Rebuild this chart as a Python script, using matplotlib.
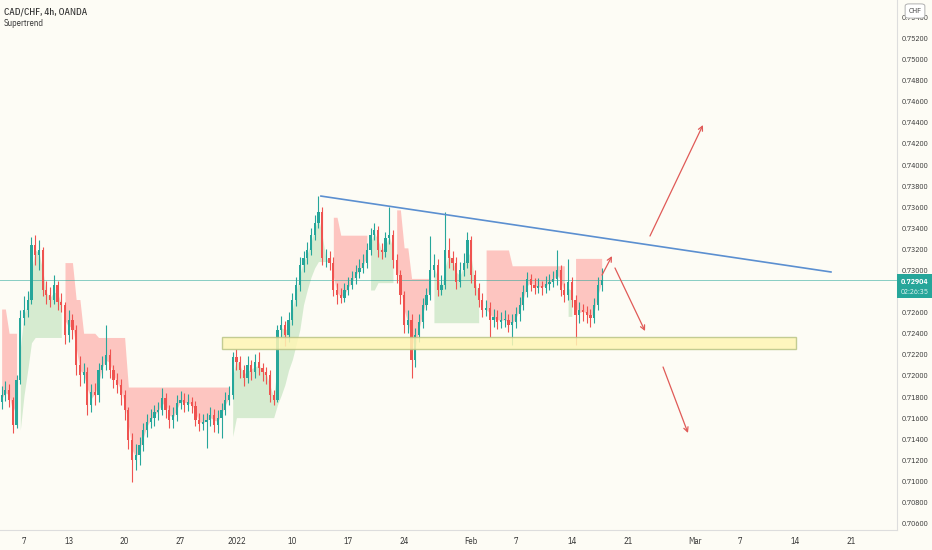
import numpy as np
import matplotlib
matplotlib.use("Agg")
import matplotlib.pyplot as plt
import matplotlib.transforms as mtransforms
from matplotlib.patches import Rectangle, FancyBboxPatch

plt.rcParams['font.family'] = ['IBM Plex Sans Condensed', 'DejaVu Sans']

# ---- price data (8h steps), CAD/CHF ----
first_open = 0.7175
closes = [0.7181, 0.7186, 0.7177, 0.7153, 0.7196, 0.7254, 0.7262, 0.7272, 0.7324, 0.7314,
          0.7319, 0.7281, 0.7276, 0.7272, 0.7286, 0.7270, 0.7267, 0.7238, 0.7253, 0.7243,
          0.7210, 0.7200, 0.7203, 0.7172, 0.7184, 0.7181, 0.7205, 0.7210, 0.7219, 0.7205,
          0.7196, 0.7191, 0.7181, 0.7167, 0.7139, 0.7120, 0.7125, 0.7134, 0.7148, 0.7156,
          0.7160, 0.7165, 0.7167, 0.7179, 0.7167, 0.7158, 0.7162, 0.7174, 0.7177, 0.7172,
          0.7175, 0.7171, 0.7158, 0.7154, 0.7156, 0.7158, 0.7162, 0.7153, 0.7160, 0.7167,
          0.7177, 0.7181, 0.7217, 0.7213, 0.7205, 0.7198, 0.7210, 0.7203, 0.7213, 0.7207,
          0.7203, 0.7200, 0.7181, 0.7177, 0.7243, 0.7248, 0.7238, 0.7253, 0.7272, 0.7286,
          0.7305, 0.7311, 0.7319, 0.7333, 0.7345, 0.7355, 0.7311, 0.7311, 0.7307, 0.7281,
          0.7276, 0.7273, 0.7281, 0.7286, 0.7292, 0.7298, 0.7302, 0.7307, 0.7319, 0.7333,
          0.7338, 0.7319, 0.7317, 0.7330, 0.7333, 0.7309, 0.7295, 0.7276, 0.7248, 0.7253,
          0.7215, 0.7238, 0.7251, 0.7267, 0.7276, 0.7300, 0.7305, 0.7281, 0.7286, 0.7319,
          0.7311, 0.7307, 0.7289, 0.7300, 0.7307, 0.7328, 0.7295, 0.7283, 0.7272, 0.7262,
          0.7264, 0.7253, 0.7255, 0.7251, 0.7253, 0.7253, 0.7248, 0.7251, 0.7258, 0.7267,
          0.7279, 0.7291, 0.7286, 0.7283, 0.7285, 0.7283, 0.7287, 0.7289, 0.7291, 0.7300,
          0.7281, 0.7276, 0.7289, 0.7272, 0.7257, 0.7262, 0.7260, 0.7257, 0.7254, 0.7267,
          0.7286, 0.72904]
highs = [0.7190, 0.7195, 0.7192, 0.7180, 0.7200, 0.7262, 0.7275, 0.7280, 0.7331, 0.7333,
         0.7328, 0.7322, 0.7290, 0.7284, 0.7295, 0.7290, 0.7278, 0.7270, 0.7262, 0.7258,
         0.7248, 0.7218, 0.7212, 0.7208, 0.7192, 0.7193, 0.7212, 0.7218, 0.7248, 0.7225,
         0.7210, 0.7202, 0.7197, 0.7186, 0.7170, 0.7145, 0.7135, 0.7142, 0.7155, 0.7163,
         0.7168, 0.7172, 0.7175, 0.7188, 0.7183, 0.7172, 0.7170, 0.7181, 0.7185, 0.7183,
         0.7182, 0.7180, 0.7176, 0.7164, 0.7163, 0.7164, 0.7170, 0.7168, 0.7167, 0.7174,
         0.7184, 0.7190, 0.7222, 0.7225, 0.7218, 0.7210, 0.7218, 0.7215, 0.7220, 0.7222,
         0.7212, 0.7208, 0.7205, 0.7186, 0.7248, 0.7256, 0.7252, 0.7260, 0.7278, 0.7293,
         0.7312, 0.7318, 0.7327, 0.7340, 0.7352, 0.7370, 0.7360, 0.7320, 0.7318, 0.7312,
         0.7288, 0.7283, 0.7288, 0.7293, 0.7299, 0.7305, 0.7310, 0.7315, 0.7326, 0.7340,
         0.7345, 0.7342, 0.7326, 0.7336, 0.7360, 0.7338, 0.7315, 0.7300, 0.7280, 0.7262,
         0.7258, 0.7245, 0.7258, 0.7273, 0.7283, 0.7332, 0.7315, 0.7310, 0.7295, 0.7355,
         0.7330, 0.7318, 0.7312, 0.7308, 0.7316, 0.7336, 0.7332, 0.7300, 0.7288, 0.7278,
         0.7272, 0.7270, 0.7263, 0.7262, 0.7260, 0.7262, 0.7258, 0.7258, 0.7265, 0.7274,
         0.7286, 0.7298, 0.7296, 0.7292, 0.7292, 0.7290, 0.7294, 0.7296, 0.7299, 0.7319,
         0.7305, 0.7288, 0.7310, 0.7293, 0.7276, 0.7270, 0.7268, 0.7266, 0.7263, 0.7273,
         0.7293, 0.7302]
lows = [0.7168, 0.7176, 0.7170, 0.7145, 0.7150, 0.7192, 0.7248, 0.7255, 0.7268, 0.7305,
        0.7300, 0.7275, 0.7268, 0.7265, 0.7268, 0.7262, 0.7260, 0.7230, 0.7232, 0.7235,
        0.7200, 0.7190, 0.7193, 0.7162, 0.7165, 0.7172, 0.7175, 0.7198, 0.7205, 0.7198,
        0.7188, 0.7183, 0.7172, 0.7158, 0.7130, 0.7099, 0.7110, 0.7115, 0.7128, 0.7142,
        0.7150, 0.7152, 0.7158, 0.7162, 0.7160, 0.7150, 0.7150, 0.7157, 0.7168, 0.7165,
        0.7166, 0.7164, 0.7152, 0.7147, 0.7148, 0.7131, 0.7152, 0.7146, 0.7145, 0.7141,
        0.7162, 0.7172, 0.7178, 0.7205, 0.7198, 0.7190, 0.7193, 0.7196, 0.7198, 0.7200,
        0.7195, 0.7192, 0.7175, 0.7172, 0.7175, 0.7236, 0.7228, 0.7232, 0.7248, 0.7266,
        0.7280, 0.7298, 0.7306, 0.7314, 0.7328, 0.7340, 0.7305, 0.7303, 0.7300, 0.7275,
        0.7268, 0.7269, 0.7270, 0.7276, 0.7282, 0.7287, 0.7292, 0.7297, 0.7302, 0.7314,
        0.7328, 0.7312, 0.7310, 0.7312, 0.7325, 0.7302, 0.7288, 0.7268, 0.7240, 0.7240,
        0.7198, 0.7208, 0.7232, 0.7245, 0.7262, 0.7272, 0.7293, 0.7275, 0.7276, 0.7282,
        0.7302, 0.7300, 0.7282, 0.7284, 0.7294, 0.7302, 0.7288, 0.7276, 0.7265, 0.7255,
        0.7256, 0.7236, 0.7246, 0.7244, 0.7245, 0.7246, 0.7241, 0.7229, 0.7245, 0.7252,
        0.7262, 0.7274, 0.7280, 0.7277, 0.7278, 0.7276, 0.7278, 0.7281, 0.7284, 0.7286,
        0.7275, 0.7270, 0.7272, 0.7265, 0.7229, 0.7250, 0.7252, 0.7250, 0.7246, 0.7250,
        0.7262, 0.7280]

# ---- supertrend segments: first candle, last candle, level, trend (+1 up, -1 down) ----
st_from = [0, 2, 5, 6, 7, 8, 9, 17, 20, 22, 26, 34, 62, 63, 74, 75, 76, 77, 78, 79, 80, 81,
           82, 83, 84, 85, 89, 91, 99, 101, 106, 108, 110, 116, 130, 137, 152, 154]
st_to = [1, 4, 5, 6, 7, 8, 16, 19, 21, 25, 33, 61, 62, 73, 74, 75, 76, 77, 78, 79, 80, 81,
         82, 83, 84, 88, 90, 98, 100, 105, 107, 109, 115, 128, 136, 151, 153, 161]
st_level = [0.7263, 0.7240, 0.7148, 0.7181, 0.7205, 0.7231, 0.7236, 0.7307, 0.7272, 0.7240,
            0.7236, 0.7189, 0.7142, 0.7160, 0.7172, 0.7181, 0.7191, 0.7205, 0.7215, 0.7229,
            0.7243, 0.7267, 0.7281, 0.7293, 0.7302, 0.7308, 0.7350, 0.7333, 0.7281, 0.7288,
            0.7357, 0.7321, 0.7292, 0.7250, 0.7319, 0.7304, 0.7256, 0.7311]
st_trend = [-1, -1, 1, 1, 1, 1, 1, -1, -1, -1, -1, -1, 1, 1, 1, 1, 1, 1, 1, 1, 1, 1,
            1, 1, 1, 1, -1, -1, 1, 1, -1, -1, -1, 1, -1, -1, 1, -1]

# ---- axis labels (0.72800 sits under the last-price tag, so it is not shown) ----
date_ticks = [0, 4, 9, 14, 19, 24, 29, 34, 40, 44, 49, 54, 60, 64, 69, 74]
date_labels = ['7', '13', '20', '27', '2022', '10', '17', '24', 'Feb', '7', '14', '21',
               'Mar', '7', '14', '21']
price_ticks = [0.706, 0.708, 0.710, 0.712, 0.714, 0.716, 0.718, 0.720, 0.722, 0.724, 0.726,
               0.730, 0.732, 0.734, 0.736, 0.738, 0.740, 0.742, 0.744, 0.746, 0.748,
               0.750, 0.752, 0.754]
last_price = 0.72904
countdown = '02:26:35'

# ---- drawings (trading-day, price) ----
trend_line_x = [26.56, 72.18]
trend_line_y = [0.73701, 0.72981]
zone_x = [17.7, 69.05]
zone_y = [0.72250, 0.72364]
arrow_from = [(55.99, 0.73322), (51.70, 0.72952), (52.86, 0.73019), (57.16, 0.72080)]
arrow_to = [(60.73, 0.74375), (52.59, 0.73132), (55.55, 0.72421), (59.39, 0.71454)]

bg = '#fdfcf5'
up_col = '#26a69a'
dn_col = '#ef5350'
txt_col = '#333333'

closes = np.array(closes)
highs = np.array(highs)
lows = np.array(lows)
opens = np.concatenate([[first_open], closes[:-1]])
n = len(closes)
xs = -2 + np.arange(n) / 3.0
mid = (opens + closes) / 2

fig = plt.figure(figsize=(9.32, 5.5), dpi=100, facecolor=bg)
ax = fig.add_axes([0, 20 / 550, 897 / 932, 530 / 550])
ax.set_facecolor(bg)

# supertrend fill between the level and the body middle
st_val = np.full(n, np.nan)
st_dir = np.zeros(n, dtype=int)
for a, b, lv, d in zip(st_from, st_to, st_level, st_trend):
    st_val[a:b + 1] = lv
    st_dir[a:b + 1] = d
i = 0
while i < n:
    if st_dir[i] == 0:
        i += 1
        continue
    j = i
    while j + 1 < n and st_dir[j + 1] == st_dir[i]:
        j += 1
    sl = slice(i, j + 1)
    if st_dir[i] > 0:
        ax.fill_between(xs[sl], st_val[sl], mid[sl], color='#4caf50', alpha=0.22, lw=0)
    else:
        ax.fill_between(xs[sl], st_val[sl], mid[sl], color='#ff5252', alpha=0.32, lw=0)
    i = j + 1

# candles
is_up = closes >= opens
cols = np.where(is_up, up_col, dn_col)
ax.vlines(xs, lows, highs, colors=cols, lw=0.8, zorder=3)
body = np.maximum(np.abs(closes - opens), 0.00004)
ax.bar(xs, body, bottom=np.minimum(opens, closes), width=0.2, color=cols, lw=0, zorder=4)

# last price line
ax.axhline(last_price, color=up_col, lw=0.7, alpha=0.55, zorder=2)

# support zone
ax.add_patch(Rectangle((zone_x[0], zone_y[0]), zone_x[1] - zone_x[0], zone_y[1] - zone_y[0],
                       facecolor='#fff6b5', edgecolor='#b9c486', lw=1, alpha=0.85, zorder=5))

# descending trend line
ax.plot(trend_line_x, trend_line_y, color='#5b8fd0', lw=1.2, zorder=6)

# arrows
for (x0, y0), (x1, y1) in zip(arrow_from, arrow_to):
    ax.annotate('', xy=(x1, y1), xytext=(x0, y0),
                arrowprops=dict(arrowstyle='->', color='#e05a57', lw=0.9,
                                shrinkA=0, shrinkB=0, mutation_scale=8), zorder=7)

ax.set_xlim(-24 / 11.18, (897 - 24) / 11.18)
ax.set_ylim(0.70534, 0.755605)

ax.yaxis.tick_right()
ax.set_yticks(price_ticks)
ax.set_yticklabels(['%.5f' % p for p in price_ticks], fontsize=5.6, color=txt_col)
ax.set_xticks(date_ticks)
ax.set_xticklabels(date_labels, fontsize=6.2, color=txt_col)
ax.tick_params(axis='both', length=0)
ax.tick_params(axis='y', pad=3.5)
ax.tick_params(axis='x', pad=5)
for s in ['top', 'left']:
    ax.spines[s].set_visible(False)
ax.spines['right'].set_color('#dddddd')
ax.spines['bottom'].set_color('#dddddd')
ax.spines['right'].set_linewidth(0.8)
ax.spines['bottom'].set_linewidth(0.8)

# last price label on the price scale
blend = mtransforms.blended_transform_factory(ax.transAxes, ax.transData)
ax.add_patch(Rectangle((1.0, 0.72733), 35 / 897, 0.00228, transform=blend,
                       facecolor=up_col, edgecolor='none', clip_on=False, zorder=10))
ax.text(1.0045, 0.72895, '%.5f' % last_price, transform=blend, fontsize=5.6,
        color='white', fontweight='bold', va='center', ha='left', zorder=11)
ax.text(1.0045, 0.72788, countdown, transform=blend, fontsize=5.4,
        color='#e6f5f3', va='center', ha='left', zorder=11)

# currency badge
fig.patches.append(FancyBboxPatch((907 / 932, 533 / 550), 16 / 932, 12 / 550,
                                  boxstyle='round,pad=0.002,rounding_size=0.004',
                                  transform=fig.transFigure, facecolor='white',
                                  edgecolor='#b0b0b0', lw=0.7, zorder=20))
fig.text(915 / 932, 539 / 550, 'CHF', fontsize=5.6, color='#444444', ha='center',
         va='center', zorder=21)

# header
fig.text(4 / 932, 1 - 12 / 550, 'CAD/CHF, 4h, OANDA', fontsize=6.6, color=txt_col,
         fontweight='medium', va='center', ha='left')
fig.text(4 / 932, 1 - 24 / 550, 'Supertrend', fontsize=6.3, color=txt_col,
         va='center', ha='left')

fig.savefig('out.png', dpi=100, facecolor=bg)
